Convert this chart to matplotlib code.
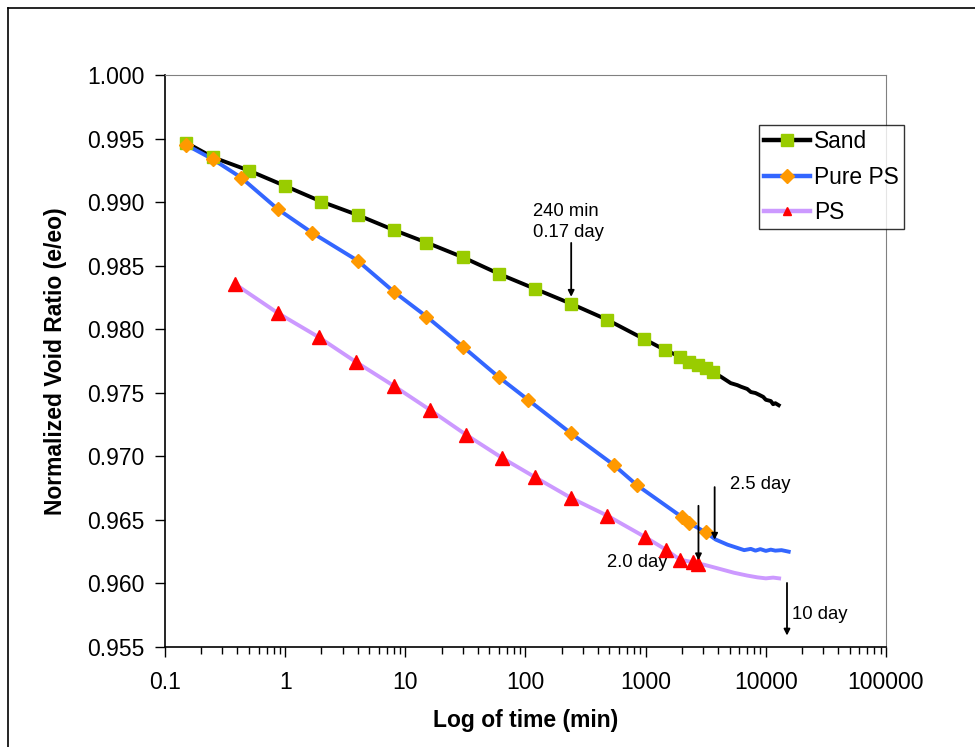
import matplotlib
matplotlib.use("Agg")
import matplotlib.pyplot as plt
from matplotlib.lines import Line2D

plt.rcParams["font.family"] = ["Liberation Sans", "DejaVu Sans"]

# --- data ------------------------------------------------------------------
sand_t = [0.15, 0.25, 0.5, 1, 2, 4, 8, 15, 30, 60, 120, 240, 480, 960, 1440,
          1920, 2300, 2700, 3150, 3650, 4200, 5100, 5800, 6200, 7000, 7500,
          8200, 8800, 9500, 10000, 11000, 11500, 12000, 12800]
sand_e = [0.99468, 0.99353, 0.99248, 0.99127, 0.99004, 0.98899, 0.98781,
          0.98682, 0.98567, 0.98436, 0.98318, 0.9820, 0.98074, 0.97925,
          0.97838, 0.97785, 0.97746, 0.97720, 0.97694, 0.97660, 0.97628,
          0.97576, 0.97560, 0.97548, 0.97530, 0.97506, 0.97498, 0.97484,
          0.97468, 0.97445, 0.97435, 0.97410, 0.97418, 0.97402]
sand_marks = list(range(20))

pps_t = [0.15, 0.25, 0.43, 0.87, 1.67, 4, 8, 15, 30, 60, 105, 240, 540, 850,
         2020, 2300, 3160, 3830, 4800, 6000, 6600, 7500, 8200, 9000, 10000,
         11000, 12000, 13500, 15500]
pps_e = [0.9945, 0.99337, 0.99193, 0.98944, 0.9876, 0.9854, 0.98296, 0.9810,
         0.97864, 0.97623, 0.97445, 0.97180, 0.96934, 0.96772, 0.9652,
         0.96476, 0.96402, 0.96345, 0.96305, 0.96275, 0.96262, 0.96272,
         0.96258, 0.96270, 0.96256, 0.96266, 0.96258, 0.96262, 0.96250]
pps_marks = list(range(17))

ps_t = [0.38, 0.87, 1.9, 3.9, 8, 16, 32, 64, 121, 240, 480, 986, 1470, 1930,
        2500, 2700, 3040, 4000, 5440, 7000, 8500, 10000, 11500, 12900]
ps_e = [0.98357, 0.98127, 0.97938, 0.97741, 0.97555, 0.97366, 0.97170,
        0.96987, 0.96834, 0.96672, 0.96533, 0.96366, 0.96266, 0.96187,
        0.96166, 0.96156, 0.96148, 0.96118, 0.96084, 0.96062, 0.96048,
        0.96040, 0.96046, 0.96040]
ps_marks = list(range(16))

# annotations: (text, arrow x, arrow y start, arrow y end, text x, text y, ha)
notes = [
    ("240 min\n0.17 day", 240, 0.98679, 0.98255, 116, 0.98844, "left"),
    ("2.5 day", 3750, 0.96758, 0.96344, 5000, 0.96777, "left"),
    ("2.0 day", 2750, 0.96611, 0.96182, 1525, 0.96166, "right"),
    ("10 day", 15000, 0.96004, 0.95590, 16500, 0.95755, "left"),
]

fig = plt.figure(figsize=(9.75, 7.47), dpi=100)
ax = fig.add_axes([165 / 975, 1 - 647 / 747, (886 - 165) / 975, (647 - 75) / 747])

ax.plot(sand_t, sand_e, "-", color="black", lw=2.8, zorder=3)
ax.plot([sand_t[i] for i in sand_marks], [sand_e[i] for i in sand_marks],
        "s", color="#99CC00", ms=8.5, mec="#99CC00", zorder=4)

ax.plot(pps_t, pps_e, "-", color="#3366FF", lw=2.8, zorder=3)
ax.plot([pps_t[i] for i in pps_marks], [pps_e[i] for i in pps_marks],
        "D", color="#FF9900", ms=7.5, mec="#FF9900", zorder=4)

ax.plot(ps_t, ps_e, "-", color="#CC99FF", lw=2.8, zorder=3)
ax.plot([ps_t[i] for i in ps_marks], [ps_e[i] for i in ps_marks],
        "^", color="#FF0000", ms=10, mec="#FF0000", zorder=4)

for txt, xa, y0, y1, xt, yt, ha in notes:
    ax.annotate("", xy=(xa, y1), xytext=(xa, y0),
                arrowprops=dict(arrowstyle="-|>", color="black", lw=1.3,
                                mutation_scale=9, shrinkA=0, shrinkB=0),
                zorder=5)
    ax.text(xt, yt, txt, ha=ha, va="center", fontsize=13.3, linespacing=1.35)

ax.set_xscale("log")
ax.set_xlim(0.1, 100000)
ax.set_ylim(0.955, 1.000)
ax.set_xticks([0.1, 1, 10, 100, 1000, 10000, 100000])
ax.set_xticklabels(["0.1", "1", "10", "100", "1000", "10000", "100000"])
ax.set_yticks([0.955 + 0.005 * k for k in range(10)])
ax.set_yticklabels([f"{0.955 + 0.005 * k:.3f}" for k in range(10)])
ax.tick_params(axis="both", which="major", labelsize=16.5, direction="out",
               length=7, width=1)
ax.tick_params(axis="x", which="minor", direction="out", length=5, width=1)
ax.tick_params(axis="x", pad=10)
ax.tick_params(axis="y", pad=8)

for side in ("top", "right"):
    ax.spines[side].set_color("#808080")
for side in ("left", "bottom"):
    ax.spines[side].set_color("black")
    ax.spines[side].set_linewidth(1.2)

ax.set_xlabel("Log of time (min)", fontsize=16.5, fontweight="bold", labelpad=11)
ax.set_ylabel("Normalized Void Ratio (e/eo)", fontsize=16.5, fontweight="bold",
              labelpad=14)

handles = [
    Line2D([], [], color="black", lw=3.2, marker="s", ms=8.5, mfc="#99CC00",
           mec="#99CC00"),
    Line2D([], [], color="#3366FF", lw=3.2, marker="D", ms=7.5, mfc="#FF9900",
           mec="#FF9900"),
    Line2D([], [], color="#CC99FF", lw=3.2, marker="^", ms=6, mfc="#FF0000",
           mec="#FF0000"),
]
leg = fig.legend(handles, ["Sand", "Pure PS", "PS"], loc="upper left",
                 bbox_to_anchor=(759 / 975, 1 - 125 / 747), fontsize=16.4,
                 frameon=True, fancybox=False, edgecolor="black",
                 handlelength=2.0, handletextpad=0.2, labelspacing=0.55,
                 borderpad=0.22, borderaxespad=0)
leg.get_frame().set_linewidth(1.0)

# outer chart frame (top and left edges visible)
fig.add_artist(Line2D([8 / 975, 8 / 975], [1 - 8 / 747, 0], color="black",
                      lw=1.2, transform=fig.transFigure))
fig.add_artist(Line2D([8 / 975, 1], [1 - 8 / 747, 1 - 8 / 747], color="black",
                      lw=1.2, transform=fig.transFigure))

fig.savefig("out.png", dpi=100)
